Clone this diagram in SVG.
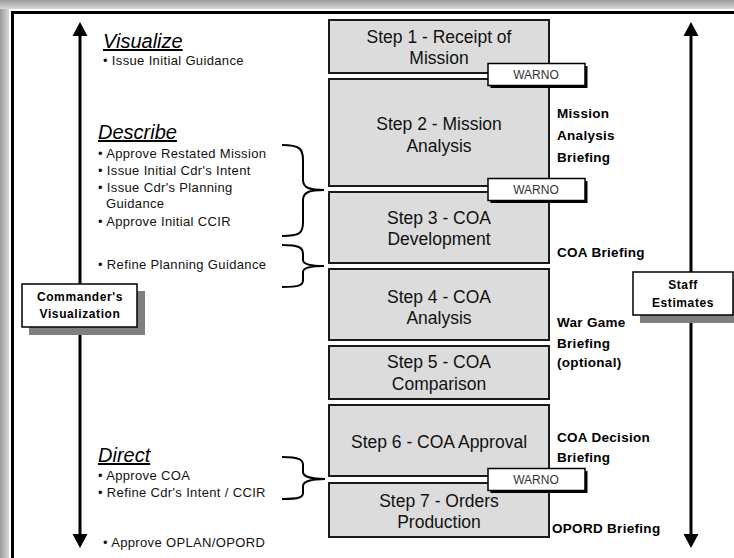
<svg xmlns="http://www.w3.org/2000/svg" width="734" height="558" viewBox="0 0 734 558">
<defs>
<linearGradient id="gl" x1="0" y1="0" x2="1" y2="0"><stop offset="0" stop-color="#9a9a9a"/><stop offset="1" stop-color="#d8d8d8"/></linearGradient>
<linearGradient id="gt" x1="0" y1="0" x2="0" y2="1"><stop offset="0" stop-color="#9a9a9a"/><stop offset="1" stop-color="#d8d8d8"/></linearGradient>
<marker id="ah" viewBox="0 0 10 10" refX="9" refY="5" markerWidth="5" markerHeight="4.3" markerUnits="strokeWidth" orient="auto-start-reverse"><path d="M0,0 L10,5 L0,10 z" fill="#000"/></marker>
<style>
.step{fill:#dcdcdc;stroke:#1a1a1a;stroke-width:2}
.st{font-family:"Liberation Sans",Arial,sans-serif;font-size:17.5px;fill:#111;text-anchor:middle}
.warno rect.s{fill:#000}
.warno rect.b{fill:#fff;stroke:#000;stroke-width:1.5}
.wt{font-family:"Liberation Sans",Arial,sans-serif;font-size:12px;fill:#333;text-anchor:middle}
.rl{font-family:"Liberation Sans",Arial,sans-serif;font-size:13.5px;font-weight:bold;fill:#000;letter-spacing:0.3px}
.hd{font-family:"Liberation Sans",Arial,sans-serif;font-size:20px;font-style:italic;fill:#000;text-decoration:underline}
.bl{font-family:"Liberation Sans",Arial,sans-serif;font-size:13px;fill:#111;letter-spacing:0.35px}
.br{fill:none;stroke:#000;stroke-width:2}
.ar{stroke:#000;stroke-width:3;fill:none}
.lb{font-family:"Liberation Sans",Arial,sans-serif;font-size:12px;font-weight:bold;fill:#000;text-anchor:middle;letter-spacing:0.6px}
</style>
</defs>
<rect x="0" y="0" width="734" height="558" fill="#fff"/>
<rect x="0" y="0" width="9" height="558" fill="url(#gl)"/>
<rect x="0" y="0" width="734" height="9" fill="url(#gt)"/>
<path d="M12.5,560 V12.5 H736" fill="none" stroke="#000" stroke-width="3"/>

<g id="connectors">
<line class="ar" x1="80" y1="34" x2="80" y2="536"/>
<path d="M80,22 L72.5,36 L87.5,36 z" fill="#000"/>
<path d="M80,548 L72.5,534 L87.5,534 z" fill="#000"/>
<line class="ar" x1="691" y1="34" x2="691" y2="536"/>
<path d="M691,22 L683.5,36 L698.5,36 z" fill="#000"/>
<path d="M691,548 L683.5,534 L698.5,534 z" fill="#000"/>
<path class="br" d="M282,145 C300,145 303,149 303,160 L303,180 C303,188 310,190 324,190 C310,190 303,192 303,200 L303,222 C303,233 300,236 282,236"/>
<path class="br" d="M282,245 C300,245 303,248 303,254 L303,260 C303,264 310,266 324,266 C310,266 303,268 303,272 L303,280 C303,285 300,287 282,287"/>
<path class="br" d="M282,457 C300,457 303,460 303,465 L303,472 C303,476 310,479 325,479 C310,479 303,482 303,486 L303,493 C303,497 300,499 282,499"/>
</g>

<g id="step1"><rect class="step" x="329" y="20" width="220" height="53"/><text class="st" x="439" y="43">Step 1 - Receipt of</text><text class="st" x="439" y="64">Mission</text></g>
<g id="step2"><rect class="step" x="329" y="79" width="220" height="107"/><text class="st" x="439" y="130">Step 2 - Mission</text><text class="st" x="439" y="152">Analysis</text></g>
<g id="step3"><rect class="step" x="329" y="192" width="220" height="71"/><text class="st" x="439" y="224">Step 3 - COA</text><text class="st" x="439" y="245">Development</text></g>
<g id="step4"><rect class="step" x="329" y="269" width="220" height="71"/><text class="st" x="439" y="303">Step 4 - COA</text><text class="st" x="439" y="324">Analysis</text></g>
<g id="step5"><rect class="step" x="329" y="346" width="220" height="53"/><text class="st" x="439" y="368">Step 5 - COA</text><text class="st" x="439" y="390">Comparison</text></g>
<g id="step6"><rect class="step" x="329" y="405" width="220" height="71"/><text class="st" x="439" y="448">Step 6 - COA Approval</text></g>
<g id="step7"><rect class="step" x="329" y="483" width="220" height="54"/><text class="st" x="439" y="507">Step 7 - Orders</text><text class="st" x="439" y="528">Production</text></g>

<g id="warno1" class="warno"><rect class="s" x="490.5" y="66" width="97" height="22"/><rect class="b" x="488" y="63.5" width="97" height="22"/><text class="wt" x="536" y="79">WARNO</text></g>
<g id="warno2" class="warno"><rect class="s" x="490.5" y="181" width="97" height="22"/><rect class="b" x="488" y="178.5" width="97" height="22"/><text class="wt" x="536" y="194">WARNO</text></g>
<g id="warno3" class="warno"><rect class="s" x="490.5" y="471" width="97" height="22"/><rect class="b" x="488" y="468.5" width="97" height="22"/><text class="wt" x="536" y="484">WARNO</text></g>

<g id="briefings">
<text class="rl" x="557" y="118">Mission</text>
<text class="rl" x="557" y="140">Analysis</text>
<text class="rl" x="557" y="162">Briefing</text>
<text class="rl" x="557" y="257">COA Briefing</text>
<text class="rl" x="557" y="327">War Game</text>
<text class="rl" x="557" y="348">Briefing</text>
<text class="rl" x="557" y="367">(optional)</text>
<text class="rl" x="557" y="442">COA Decision</text>
<text class="rl" x="557" y="462">Briefing</text>
<text class="rl" x="552" y="533">OPORD Briefing</text>
</g>

<g id="visualize">
<text class="hd" x="103" y="48">Visualize</text>
<text class="bl" x="103" y="65">• Issue Initial Guidance</text>
</g>
<g id="describe">
<text class="hd" x="98" y="139">Describe</text>
<text class="bl" x="98" y="158">• Approve Restated Mission</text>
<text class="bl" x="98" y="175">• Issue Initial Cdr's Intent</text>
<text class="bl" x="98" y="192">• Issue Cdr's Planning</text>
<text class="bl" x="106" y="208">Guidance</text>
<text class="bl" x="98" y="226">• Approve Initial CCIR</text>
<text class="bl" x="98" y="269">• Refine Planning Guidance</text>
</g>
<g id="direct">
<text class="hd" x="98" y="462">Direct</text>
<text class="bl" x="98" y="480">• Approve COA</text>
<text class="bl" x="98" y="497">• Refine Cdr's Intent / CCIR</text>
<text class="bl" x="103" y="547">• Approve OPLAN/OPORD</text>
</g>

<g id="commander">
<rect x="29" y="291" width="116" height="44" fill="#808080"/>
<rect x="22" y="284" width="115" height="43" fill="#fff" stroke="#000" stroke-width="1.5"/>
<text class="lb" x="80" y="301">Commander's</text>
<text class="lb" x="80" y="318">Visualization</text>
</g>
<g id="staff">
<rect x="640" y="279" width="100" height="44" fill="#808080"/>
<rect x="633" y="272" width="100" height="43" fill="#fff" stroke="#000" stroke-width="1.5"/>
<text class="lb" x="683" y="289">Staff</text>
<text class="lb" x="683" y="307">Estimates</text>
</g>
</svg>
